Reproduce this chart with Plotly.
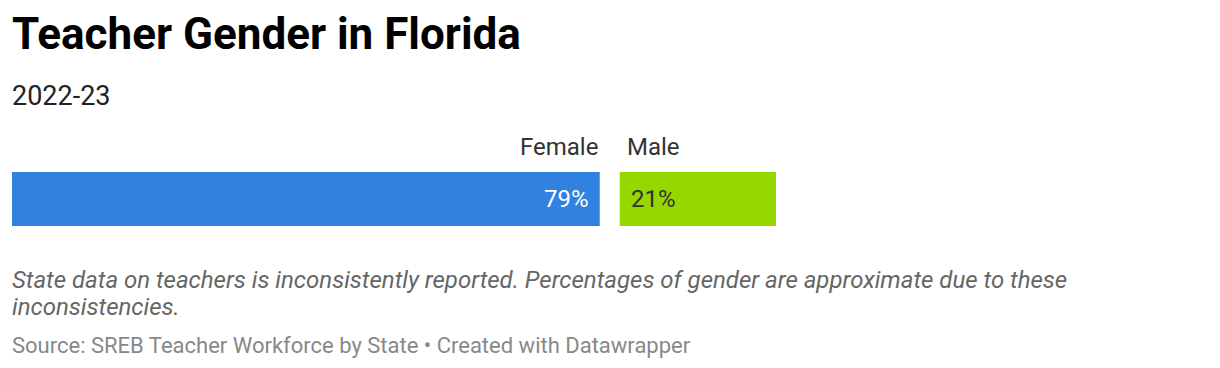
import plotly.graph_objects as go

categories = ["Female", "Male"]
values = [79, 21]
value_labels = ["79%", "21%"]
colors = ["#3182e0", "#96d700"]

title = "Teacher Gender in Florida"
subtitle = "2022-23"
note_lines = ["State data on teachers is inconsistently reported. Percentages of gender are approximate due to these",
              "inconsistencies."]
source = "Source: SREB Teacher Workforce by State • Created with Datawrapper"

W, H = 1220, 368
ML, MR, MT, MB = 12, 0, 172, 142
px_per_unit = 7.44
gap_units = 20 / px_per_unit
xmax = (W - ML - MR) / px_per_unit

bases = [0, values[0] + gap_units]

fig = go.Figure()
for i, cat in enumerate(categories):
    fig.add_trace(go.Bar(
        x=[values[i]], y=[0], base=[bases[i]], orientation="h",
        marker=dict(color=colors[i], line=dict(width=0)),
        width=1, name=cat, showlegend=False, hoverinfo="skip",
    ))

left_x = -ML / (W - ML - MR)
ann = []
# category labels above bars
ann.append(dict(x=bases[0] + values[0], y=1, xref="x", yref="paper", text=categories[0],
                xanchor="right", yanchor="middle", yshift=25, showarrow=False,
                font=dict(family="Roboto", size=24, color="#333333")))
ann.append(dict(x=bases[1], y=1, xref="x", yref="paper", text=categories[1],
                xanchor="left", yanchor="middle", yshift=25, xshift=5, showarrow=False,
                font=dict(family="Roboto", size=24, color="#333333")))
# value labels inside bars
ann.append(dict(x=bases[0] + values[0], y=0, xref="x", yref="y", text=value_labels[0],
                xanchor="right", yanchor="middle", xshift=-9, showarrow=False,
                font=dict(family="Roboto", size=24, color="#ffffff")))
ann.append(dict(x=bases[1], y=0, xref="x", yref="y", text=value_labels[1],
                xanchor="left", yanchor="middle", xshift=9, showarrow=False,
                font=dict(family="Roboto", size=24, color="#333333")))
# title / subtitle
ann.append(dict(x=left_x, y=1, xref="paper", yref="paper", text="<b>" + title + "</b>",
                xanchor="left", yanchor="middle", xshift=10, yshift=138, showarrow=False,
                font=dict(family="Roboto", size=44, color="#000000")))
ann.append(dict(x=left_x, y=1, xref="paper", yref="paper", text=subtitle,
                xanchor="left", yanchor="middle", xshift=10, yshift=76, showarrow=False,
                font=dict(family="Roboto", size=27, color="#222222")))
# note and source
for i, line in enumerate(note_lines):
    ann.append(dict(x=left_x, y=0, xref="paper", yref="paper", text="<i>" + line + "</i>",
                    xanchor="left", yanchor="middle", xshift=10, yshift=-54 - 27 * i, showarrow=False,
                    align="left", font=dict(family="Roboto", size=24, color="#666666")))
ann.append(dict(x=left_x, y=0, xref="paper", yref="paper", text=source,
                xanchor="left", yanchor="middle", xshift=10, yshift=-119, showarrow=False, align="left",
                font=dict(family="Roboto", size=22, color="#888888")))

fig.update_layout(
    width=W, height=H,
    margin=dict(l=ML, r=MR, t=MT, b=MB, pad=0),
    paper_bgcolor="#ffffff", plot_bgcolor="#ffffff",
    barmode="overlay",
    xaxis=dict(range=[0, xmax], visible=False, fixedrange=True),
    yaxis=dict(range=[-0.5, 0.5], visible=False, fixedrange=True),
    annotations=ann,
    font=dict(family="Roboto"),
)

fig.write_html("out.html", config={"displayModeBar": False},
               post_script="document.body.style.margin='0';document.body.style.padding='0';")
